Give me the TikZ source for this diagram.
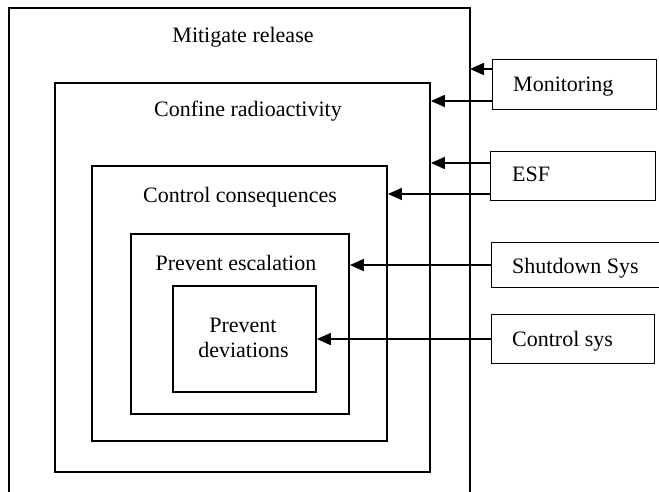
\documentclass[tikz,border=0pt]{standalone}
\usepackage{fontspec}
\setmainfont{Liberation Serif}
\usetikzlibrary{arrows.meta}
\begin{document}
\begin{tikzpicture}[x=1pt,y=-1pt,
  layer/.style={draw, line width=1.9pt, inner sep=0pt, anchor=north west},
  sysbox/.style={draw, line width=1.1pt, inner sep=0pt, anchor=north west},
  lbl/.style={anchor=base, font=\fontsize{22}{26}\selectfont, inner sep=0pt},
  syslbl/.style={anchor=base west, font=\fontsize{22}{26}\selectfont, inner sep=0pt},
  arr/.style={line width=1.6pt, -{Triangle[length=14pt,width=12pt]}}]
\useasboundingbox (0,0) rectangle (659,492);
% outer open box
\draw[line width=1.9pt] (9,500) -- (9,8) -- (470,8) -- (470,500);
\coordinate (outer) at (470,8);
\node[lbl] (tmit) at (243,43) {Mitigate release};
% nested layers
\node[layer, minimum width=375pt, minimum height=389pt] (conf) at (54,82) {};
\node[lbl] (tconf) at (248,117) {Confine radioactivity};
\node[layer, minimum width=295pt, minimum height=275pt] (cons) at (91,165) {};
\node[lbl] (tcons) at (240,202) {Control consequences};
\node[layer, minimum width=218pt, minimum height=180pt] (esc) at (130,233) {};
\node[lbl] (tesc) at (236,270) {Prevent escalation};
\node[layer, minimum width=143pt, minimum height=106pt] (dev) at (172,285) {};
\node[lbl] (tdev1) at (243,332) {Prevent};
\node[lbl] (tdev2) at (243.5,357) {deviations};
% system boxes
\node[sysbox, minimum width=164pt, minimum height=50pt] (mon) at (492,59) {};
\node[syslbl] (tmon) at (513,92) {Monitoring};
\node[sysbox, minimum width=165pt, minimum height=49pt] (esf) at (490,151) {};
\node[syslbl] (tesf) at (512,182) {ESF};
\node[sysbox, minimum width=180pt, minimum height=45pt] (shut) at (491,242) {};
\node[syslbl] (tshut) at (512,273) {Shutdown Sys};
\node[sysbox, minimum width=163pt, minimum height=49pt] (csys) at (491,314) {};
\node[syslbl] (tcsys) at (512,346) {Control sys};
% arrows
\draw[arr] (mon.west |- 0,69) -- (outer |- 0,69);
\draw[arr] (mon.west |- 0,101) -- (conf.east |- 0,101);
\draw[arr] (esf.west |- 0,163) -- (conf.east |- 0,163);
\draw[arr] (esf.west |- 0,194) -- (cons.east |- 0,194);
\draw[arr] (shut.west) -- (esc.east |- shut.west);
\draw[arr] (csys.west) -- (dev.east |- csys.west);
\end{tikzpicture}
\end{document}
